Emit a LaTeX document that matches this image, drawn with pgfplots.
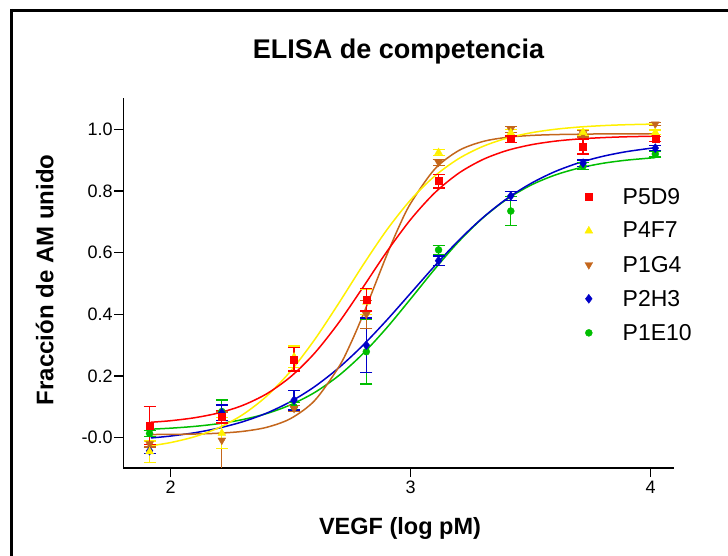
\documentclass[border=0pt]{standalone}
\usepackage{pgfplots}
\pgfplotsset{compat=1.18}
\usepackage{pgfplotstable}
\usepackage{fontspec}
\setmainfont{Liberation Sans}

\definecolor{cred}{RGB}{255,0,0}
\definecolor{cyel}{RGB}{255,240,0}
\definecolor{cbrn}{RGB}{196,102,28}
\definecolor{cblu}{RGB}{0,0,200}
\definecolor{cgrn}{RGB}{0,190,0}

% x  y  err
\pgfplotstableread{
x y e
1.912 0.040 0.062
2.213 0.068 0.020
2.514 0.254 0.038
2.815 0.447 0.036
3.116 0.832 0.022
3.417 0.968 0.010
3.718 0.944 0.024
4.019 0.969 0.008
}\pfived
\pgfplotstableread{
x y e
1.912 -0.045 0.035
2.213 0.015 0.050
2.514 0.262 0.035
2.815 0.440 0.040
3.116 0.925 0.010
3.417 0.989 0.010
3.718 0.990 0.010
4.019 0.990 0.008
}\pfourf
\pgfplotstableread{
x y e
1.912 -0.020 0.010
2.213 -0.008 0.092
2.514 0.095 0.010
2.815 0.400 0.045
3.116 0.893 0.010
3.417 1.000 0.010
3.718 0.985 0.010
4.019 1.017 0.005
}\ponegf
\pgfplotstableread{
x y e
1.912 -0.042 0.010
2.213 0.081 0.025
2.514 0.122 0.032
2.815 0.300 0.088
3.116 0.574 0.015
3.417 0.784 0.015
3.718 0.890 0.010
4.019 0.939 0.008
}\ptwoh
\pgfplotstableread{
x y e
1.912 0.014 0.010
2.213 0.085 0.037
2.514 0.100 0.015
2.815 0.279 0.105
3.116 0.609 0.015
3.417 0.735 0.047
3.718 0.881 0.012
4.019 0.920 0.010
}\ponee

\begin{document}
\begin{tikzpicture}[x=1bp,y=1bp]
\useasboundingbox (0,0) rectangle (728,556);
\draw[line width=3bp] (10,545.5) -- (728,545.5);
\draw[line width=3bp] (11.5,547) -- (11.5,0);

\begin{axis}[
  at={(123.3bp,88bp)}, anchor=south west,
  scale only axis, width=550.7bp, height=370bp,
  xmin=1.8025, xmax=4.097, ymin=-0.098, ymax=1.1015,
  axis x line*=bottom, axis y line*=left,
  axis line style={line width=1.6bp},
  every tick/.style={black, line width=1.3bp},
  tick align=outside, major tick length=9bp,
  xtick={2,3,4},
  ytick={0,0.2,0.4,0.6,0.8,1.0},
  yticklabels={-0.0,0.2,0.4,0.6,0.8,1.0},
  /pgf/number format/assume math mode=true,
  ticklabel style={font=\fontsize{18bp}{20bp}\selectfont},
  yticklabel style={inner sep=1.5bp},
  xticklabel style={inner sep=4bp},
  reverse legend,
  legend style={draw=none, fill=none, at={(axis cs:3.725,0.81)}, anchor=north west,
    font=\fontsize{23bp}{25bp}\selectfont, row sep=16.5bp, column sep=30bp,
    nodes={inner sep=0pt}, inner sep=0pt},
  legend cell align=left,
  error bars/error bar style={line width=1.3bp},
  error bars/error mark options={rotate=90, line width=1.3bp, mark size=6bp},
]
% fitted curves
\addplot[cgrn, line width=1.5bp, smooth, forget plot] coordinates {
(1.917,0.0278)(2.0,0.0311)(2.1,0.0369)(2.2,0.0457)(2.3,0.059)(2.4,0.0785)(2.5,0.1069)(2.6,0.1469)(2.7,0.2014)(2.8,0.2717)(2.9,0.3564)(3.0,0.4506)(3.1,0.5467)(3.2,0.636)(3.3,0.7123)(3.4,0.773)(3.5,0.8186)(3.6,0.8513)(3.7,0.8741)(3.8,0.8897)(3.9,0.900)(4.019,0.9081)};
\addplot[cblu, line width=1.5bp, smooth, forget plot] coordinates {
(1.917,-0.0007)(2.0,0.0056)(2.1,0.0163)(2.2,0.0313)(2.3,0.0519)(2.4,0.080)(2.5,0.1174)(2.6,0.1659)(2.7,0.2266)(2.8,0.299)(2.9,0.3812)(3.0,0.469)(3.1,0.5571)(3.2,0.640)(3.3,0.7132)(3.4,0.7749)(3.5,0.8241)(3.6,0.8625)(3.7,0.8912)(3.8,0.9123)(3.9,0.9277)(4.019,0.9405)};
\addplot[cbrn, line width=1.5bp, smooth, forget plot] coordinates {
(1.917,0.0105)(2.0,0.0109)(2.1,0.0121)(2.2,0.0148)(2.3,0.0207)(2.4,0.0339)(2.5,0.0624)(2.6,0.1208)(2.7,0.229)(2.75,0.3058)(2.8,0.3957)(2.85,0.4936)(2.9,0.5917)(2.95,0.6825)(3.0,0.7604)(3.1,0.8709)(3.2,0.931)(3.3,0.9603)(3.4,0.9739)(3.5,0.980)(3.6,0.9828)(3.7,0.984)(3.8,0.985)(4.019,0.985)};
\addplot[cyel, line width=1.5bp, smooth, forget plot] coordinates {
(1.917,-0.026)(2.0,-0.0155)(2.1,0.0035)(2.2,0.0324)(2.3,0.0749)(2.4,0.135)(2.5,0.2164)(2.6,0.3185)(2.7,0.4359)(2.8,0.5584)(2.9,0.6734)(3.0,0.7716)(3.1,0.8485)(3.2,0.905)(3.3,0.9443)(3.4,0.971)(3.5,0.9885)(3.6,0.9999)(3.7,1.0072)(3.8,1.0119)(3.9,1.0149)(4.019,1.017)};
\addplot[cred, line width=1.5bp, smooth, forget plot] coordinates {
(1.917,0.0503)(2.0,0.0553)(2.1,0.065)(2.2,0.0805)(2.3,0.105)(2.4,0.1426)(2.5,0.198)(2.6,0.2747)(2.7,0.373)(2.8,0.4865)(2.9,0.6028)(3.0,0.708)(3.1,0.794)(3.2,0.8577)(3.3,0.9018)(3.4,0.931)(3.5,0.9496)(3.6,0.9614)(3.7,0.9686)(3.8,0.973)(3.9,0.9758)(4.019,0.9777)};
% data points
\addplot[cgrn, only marks, mark=*, mark size=3.5bp,
  error bars/.cd, y dir=both, y explicit]
  table[x=x, y=y, y error=e] {\ponee};
\addlegendentry{P1E10}
\addplot[cblu, only marks, mark=diamond*, mark size=4.5bp,
  error bars/.cd, y dir=both, y explicit]
  table[x=x, y=y, y error=e] {\ptwoh};
\addlegendentry{P2H3}
\addplot[cbrn, only marks, mark=triangle*, mark size=4.5bp, mark options={rotate=180},
  error bars/.cd, y dir=both, y explicit]
  table[x=x, y=y, y error=e] {\ponegf};
\addlegendentry{P1G4}
\addplot[cyel, only marks, mark=triangle*, mark size=4.5bp,
  error bars/.cd, y dir=both, y explicit]
  table[x=x, y=y, y error=e] {\pfourf};
\addlegendentry{P4F7}
\addplot[cred, only marks, mark=square*, mark size=3.5bp,
  error bars/.cd, y dir=both, y explicit]
  table[x=x, y=y, y error=e] {\pfived};
\addlegendentry{P5D9}
\end{axis}

\node[anchor=base, font=\bfseries\fontsize{27bp}{30bp}\selectfont] at (398.5,497) {ELISA de competencia};
\node[anchor=base, font=\bfseries\fontsize{23.5bp}{26bp}\selectfont] at (400,21) {VEGF (log pM)};
\node[anchor=base, rotate=90, font=\bfseries\fontsize{24bp}{26bp}\selectfont] at (53.3,276) {Fracción de AM unido};
\end{tikzpicture}
\end{document}
